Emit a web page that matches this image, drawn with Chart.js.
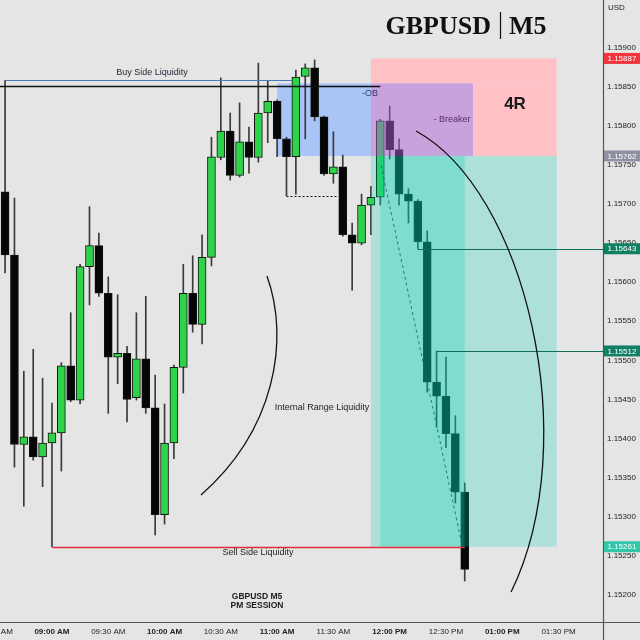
<!DOCTYPE html>
<html><head><meta charset="utf-8">
<script src="https://cdn.jsdelivr.net/npm/chart.js@4.4.0/dist/chart.umd.min.js"></script>
<style>html,body{margin:0;padding:0;background:#e6e6e6;}#wrap{width:640px;height:640px;}</style>
</head><body><div id="wrap"><canvas id="c" width="640" height="640"></canvas></div>
<script>
// ---- data ----
const times = ["08:35","08:40","08:45","08:50","08:55","09:00","09:05","09:10","09:15","09:20",
"09:25","09:30","09:35","09:40","09:45","09:50","09:55","10:00","10:05","10:10",
"10:15","10:20","10:25","10:30","10:35","10:40","10:45","10:50","10:55","11:00",
"11:05","11:10","11:15","11:20","11:25","11:30","11:35","11:40","11:45","11:50",
"11:55","12:00","12:05","12:10","12:15","12:20","12:25","12:30","12:35","12:40"];
const opens = [1.15716,1.15635,1.15392,1.15402,1.15376,1.15394,1.15407,1.15493,1.15449,1.15620,
1.15647,1.15586,1.15504,1.15509,1.15452,1.15502,1.15439,1.15302,1.15394,1.15491,
1.15586,1.15546,1.15632,1.15760,1.15794,1.15737,1.15780,1.15760,1.15817,1.15832,
1.15784,1.15761,1.15864,1.15875,1.15812,1.15739,1.15748,1.15661,1.15650,1.15699,
1.15709,1.15807,1.15770,1.15713,1.15704,1.15652,1.15472,1.15454,1.15406,1.15331];
const highs = [1.15859,1.15708,1.15486,1.15514,1.15477,1.15445,1.15497,1.15561,1.15623,1.15697,
1.15663,1.15607,1.15584,1.15518,1.15561,1.15582,1.15481,1.15444,1.15494,1.15623,
1.15634,1.15661,1.15786,1.15862,1.15817,1.15830,1.15799,1.15881,1.15858,1.15834,
1.15786,1.15872,1.15880,1.15885,1.15813,1.15793,1.15763,1.15676,1.15713,1.15723,
1.15809,1.15826,1.15784,1.15720,1.15706,1.15666,1.15512,1.15504,1.15429,1.15343];
const lows = [1.15612,1.15363,1.15313,1.15372,1.15338,1.15261,1.15358,1.15447,1.15444,1.15571,
1.15582,1.15432,1.15470,1.15421,1.15449,1.15432,1.15276,1.15290,1.15374,1.15458,
1.15536,1.15521,1.15621,1.15757,1.15731,1.15735,1.15740,1.15754,1.15779,1.15761,
1.15711,1.15713,1.15784,1.15807,1.15737,1.15727,1.15659,1.15590,1.15648,1.15661,
1.15699,1.15758,1.15699,1.15676,1.15643,1.15459,1.15414,1.15388,1.15317,1.15217];
const closes = [1.15635,1.15392,1.15402,1.15376,1.15394,1.15407,1.15493,1.15449,1.15620,1.15647,
1.15586,1.15504,1.15509,1.15450,1.15502,1.15439,1.15302,1.15394,1.15491,1.15586,
1.15546,1.15632,1.15761,1.15794,1.15737,1.15780,1.15760,1.15817,1.15832,1.15784,
1.15761,1.15863,1.15875,1.15812,1.15739,1.15748,1.15661,1.15650,1.15699,1.15709,
1.15807,1.15770,1.15713,1.15704,1.15652,1.15472,1.15454,1.15406,1.15331,1.15232];
const xTickTimes = ["08:30","09:00","09:30","10:00","10:30","11:00","11:30","12:00","12:30","13:00","13:30"];
const yTickValues = [1.152,1.1525,1.153,1.1535,1.154,1.1545,1.155,1.1555,1.156,1.1565,1.157,1.1575,1.158,1.1585,1.159];
const stopLevel = 1.15887, entryLevel = 1.15762, target1 = 1.15643, target2 = 1.15512, sellSide = 1.15261;
const buySide = 1.15859, obTop = 1.15855, obLine = 1.15852, breakLow = 1.15711;

const toMin = s => { const p = s.split(':').map(Number); return p[0]*60 + p[1]; };
const fmtTime = v => { let h = Math.floor(v/60), m = Math.round(v%60); const ap = h >= 12 ? 'PM' : 'AM'; if (h > 12) h -= 12; return String(h).padStart(2,'0') + ':' + String(m).padStart(2,'0') + ' ' + ap; };

const GREEN = '#2fd34a', BLACK = '#060606';
const wickData = times.map((t,i) => ({x: toMin(t), y: [lows[i], highs[i]]}));
const bodyData = times.map((t,i) => ({x: toMin(t), y: [opens[i], closes[i]]}));

const SANS = '"Liberation Sans", Arial, sans-serif';

const overlay = {
  id: 'overlay',
  beforeDraw(chart) {
    const c = chart.ctx; c.save(); c.fillStyle = '#e5e5e5'; c.fillRect(0,0,chart.width,chart.height); c.restore();
  },
  beforeDatasetsDraw(chart) {
    const c = chart.ctx, X = v => chart.scales.x.getPixelForValue(v), Y = v => chart.scales.y.getPixelForValue(v);
    const rect = (t0,t1,p0,p1,col) => { c.fillStyle = col; c.fillRect(X(t0), Y(p0), X(t1)-X(t0), Y(p1)-Y(p0)); };
    c.save();
    rect(660, 710, obTop, entryLevel, '#a9c5f7');
    rect(710, 809, stopLevel, obTop, '#ffc1c6');
    rect(764.4, 809, obTop, entryLevel, '#ffc1c6');
    c.restore();
  },
  afterDatasetsDraw(chart) {
    const c = chart.ctx, X = v => chart.scales.x.getPixelForValue(v), Y = v => chart.scales.y.getPixelForValue(v);
    const xs = chart.scales.x;
    const rect = (t0,t1,p0,p1,col) => { c.fillStyle = col; c.fillRect(X(t0), Y(p0), X(t1)-X(t0), Y(p1)-Y(p0)); };
    const hline = (t0,t1,p,col,w,dash) => { c.beginPath(); c.strokeStyle = col; c.lineWidth = w; c.setLineDash(dash||[]); const y = Math.round(Y(p))+0.5; c.moveTo(X(t0), y); c.lineTo(X(t1), y); c.stroke(); c.setLineDash([]); };
    const text = (s,t,p,font,col,align) => { c.font = font; c.fillStyle = col; c.textAlign = align||'center'; c.textBaseline = 'middle'; c.fillText(s, X(t), Y(p)); };
    c.save();
    // purple (OB + stop overlap) and profit zone tints over candles
    rect(710, 764.4, obTop, entryLevel, 'rgba(172,96,214,0.5)');
    rect(710, 715, entryLevel, sellSide, 'rgba(3,210,181,0.25)');
    rect(715, 760, entryLevel, sellSide, 'rgba(3,210,181,0.45)');
    rect(760, 809, entryLevel, sellSide, 'rgba(3,210,181,0.25)');
    // lines
    hline(515, 668, buySide, '#4a7db8', 1.2);
    hline(xs.min, 715, obLine, '#111111', 1.4);
    hline(665, 692, breakLow, '#111111', 1, [2,2]);
    hline(540, 760, sellSide, '#dc2f3e', 1.3);
    hline(735, xs.max, target1, '#0e6e58', 1);
    hline(745, xs.max, target2, '#0e6e58', 1);
    // dashed diagonal
    c.beginPath(); c.strokeStyle = 'rgba(14,110,88,0.85)'; c.lineWidth = 1; c.setLineDash([3,3]);
    c.moveTo(X(715.4), Y(1.15750)); c.lineTo(X(758.6), Y(1.15263)); c.stroke(); c.setLineDash([]);
    // arcs
    const curve = (pts) => { c.beginPath(); c.strokeStyle = '#111'; c.lineWidth = 1.3;
      c.moveTo(X(pts[0][0]), Y(pts[0][1]));
      c.bezierCurveTo(X(pts[1][0]), Y(pts[1][1]), X(pts[2][0]), Y(pts[2][1]), X(pts[3][0]), Y(pts[3][1])); c.stroke(); };
    curve([[734.0,1.157940],[792.1,1.157183],[824.1,1.153978],[784.7,1.152029]]);
    curve([[654.6,1.156081],[666.9,1.155260],[658.9,1.154106],[619.4,1.153273]]);
    // labels
    text('Buy Side Liquidity', 593.3, 1.158683, '9px '+SANS, '#1d2333');
    text('-OB', 705.2, 1.158414, '9px '+SANS, '#2b3a6b', 'left');
    text('- Breaker', 753.2, 1.158081, '9px '+SANS, '#5b2a63');
    text('4R', 786.8, 1.158286, 'bold 17px '+SANS, '#1a1a1a');
    text('Internal Range Liquidity', 683.9, 1.154401, '9px '+SANS, '#1d1d1d');
    text('Sell Side Liquidity', 649.8, 1.152542, '9px '+SANS, '#1d1d1d');
    text('GBPUSD M5', 649.3, 1.151965, 'bold 8.5px '+SANS, '#1d1d1d');
    text('PM SESSION', 649.3, 1.151850, 'bold 8.5px '+SANS, '#1d1d1d');
    c.restore();
  },
  afterDraw(chart) {
    const c = chart.ctx, Y = v => chart.scales.y.getPixelForValue(v);
    const ca = chart.chartArea;
    c.save();
    // axis lines
    c.strokeStyle = '#555'; c.lineWidth = 1.2;
    c.beginPath(); c.moveTo(Math.round(ca.right)+0.5, 0); c.lineTo(Math.round(ca.right)+0.5, chart.height); c.stroke();
    c.beginPath(); c.moveTo(0, Math.round(ca.bottom)+0.5); c.lineTo(chart.width, Math.round(ca.bottom)+0.5); c.stroke();
    // price tags
    const tag = (p, col) => { const y = Y(p); c.fillStyle = col; c.fillRect(ca.right+1, y-5.5, 36, 11);
      c.fillStyle = '#ffffff'; c.font = '8px '+SANS; c.textAlign = 'left'; c.textBaseline = 'middle'; c.fillText(p.toFixed(5), ca.right+4.5, y+0.5); };
    tag(stopLevel, '#f0353f');
    tag(entryLevel, '#8f91a3');
    tag(target1, '#118064');
    tag(target2, '#118064');
    tag(sellSide, '#2fc7a8');
    c.fillStyle = '#222'; c.font = '8px '+SANS; c.textAlign = 'left'; c.textBaseline = 'middle';
    c.fillText('USD', ca.right+5, 8);
    // title
    c.fillStyle = '#111'; c.font = 'bold 26px "Liberation Serif", "Times New Roman", serif'; c.textBaseline = 'alphabetic';
    c.textAlign = 'right'; c.fillText('GBPUSD', 491, 34);
    c.textAlign = 'left'; c.fillText('M5', 509, 34);
    c.strokeStyle = '#111'; c.lineWidth = 1.2; c.beginPath(); c.moveTo(500.5, 12); c.lineTo(500.5, 39); c.stroke();
    c.restore();
  }
};

const chart = new Chart(document.getElementById('c'), {
  type: 'bar',
  data: {
    datasets: [
      { label: 'body', data: bodyData, order: 0, grouped: false, barThickness: 8,
        backgroundColor: ctx => (closes[ctx.dataIndex] >= opens[ctx.dataIndex] ? GREEN : BLACK),
        borderColor: '#101510', borderWidth: 1, borderSkipped: false },
      { label: 'wick', data: wickData, order: 1, grouped: false, barThickness: 1,
        backgroundColor: '#3a3a3a', borderWidth: 0 }
    ]
  },
  options: {
    responsive: false, animation: false, devicePixelRatio: 1,
    layout: { padding: 0 },
    plugins: { legend: { display: false }, tooltip: { enabled: false } },
    scales: {
      x: {
        type: 'linear', min: 512.3, max: 833.7, offset: false,
        grid: { display: false, drawTicks: false }, border: { display: false },
        afterBuildTicks: s => { s.ticks = xTickTimes.map(t => ({ value: toMin(t) })); },
        afterFit: s => { s.height = 18; s.paddingLeft = 0; s.paddingRight = 0; },
        ticks: { autoSkip: false, maxRotation: 0, padding: 5, color: '#222',
          callback: v => fmtTime(v),
          font: ctx => ({ family: SANS, size: 8, weight: (ctx.tick && ctx.tick.value % 60 === 0) ? 'bold' : 'normal' }) }
      },
      y: {
        type: 'linear', position: 'right', min: 1.151645, max: 1.159619,
        grid: { display: false, drawTicks: false }, border: { display: false },
        afterBuildTicks: s => { s.ticks = yTickValues.map(v => ({ value: v })); },
        afterFit: s => { s.width = 37; s.paddingTop = 0; s.paddingBottom = 0; },
        ticks: { padding: 4, color: '#222', font: { family: SANS, size: 8 }, callback: v => v.toFixed(5) }
      }
    }
  },
  plugins: [overlay]
});
</script></body></html>
